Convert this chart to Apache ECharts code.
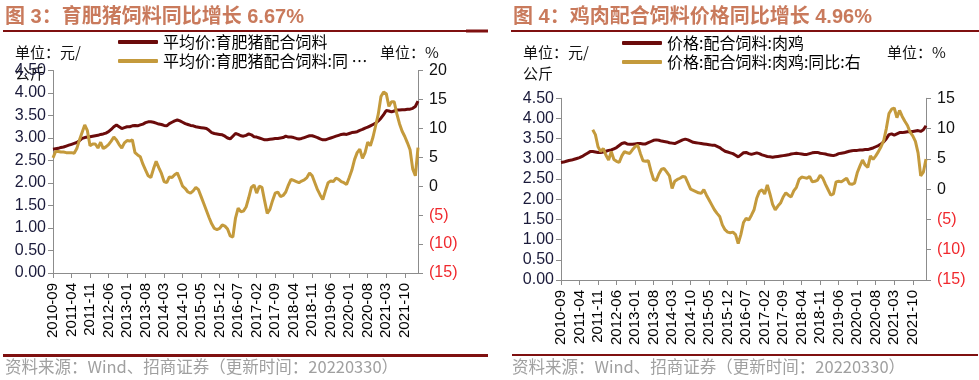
<!DOCTYPE html>
<html><head><meta charset="utf-8">
<script src="https://cdn.jsdelivr.net/npm/echarts@6/dist/echarts.min.js"></script>
<style>html,body{margin:0;padding:0;background:#fff}#c{width:979px;height:380px}</style>
</head><body><div id="c"></div>
<script>
// month categories 2010-09 .. 2022-03
const months = [];
for (let y = 2010, m = 9; y < 2022 || (y === 2022 && m <= 3); ) {
  months.push(y + '-' + (m < 10 ? '0' + m : m));
  m++; if (m > 12) { m = 1; y++; }
}
const pigName = '平均价:育肥猪配合饲料';
const pigYoyName = '平均价:育肥猪配合饲料:同 …';
const chkName = '价格:配合饲料:肉鸡';
const chkYoyName = '价格:配合饲料:肉鸡:同比:右';

const pigPrice = [2.75,2.76,2.77,2.79,2.80,2.82,2.84,2.86,2.88,2.90,
2.94,2.99,3.01,3.02,3.03,3.04,3.05,3.06,3.08,3.09,
3.11,3.14,3.19,3.25,3.29,3.25,3.21,3.23,3.25,3.25,
3.27,3.28,3.27,3.29,3.31,3.34,3.36,3.36,3.35,3.33,
3.31,3.30,3.28,3.27,3.32,3.35,3.38,3.40,3.38,3.35,
3.32,3.30,3.28,3.27,3.25,3.24,3.23,3.22,3.21,3.17,
3.12,3.10,3.09,3.08,3.07,3.04,3.00,2.98,3.04,3.10,
3.08,3.05,3.04,3.06,3.09,3.07,3.03,3.02,3.00,2.98,
2.96,2.96,2.97,2.98,2.99,2.99,3.00,3.01,3.04,3.02,
3.02,3.01,2.99,2.98,2.99,3.01,3.03,3.05,3.05,3.03,
3.01,2.98,2.96,2.96,2.98,3.00,3.02,3.04,3.06,3.08,
3.09,3.08,3.10,3.12,3.13,3.14,3.17,3.19,3.22,3.24,
3.27,3.30,3.33,3.38,3.44,3.52,3.61,3.60,3.58,3.60,
3.62,3.62,3.63,3.63,3.64,3.64,3.66,3.70,3.82];

const pigYoy = [4.9,6.0,6.0,5.9,5.9,5.8,5.8,5.8,5.7,6.5,
8.0,9.3,10.6,9.6,7.0,7.3,7.3,6.6,7.6,6.5,
6.8,7.2,7.8,8.5,8.0,7.2,6.6,7.5,7.9,7.8,
8.0,5.8,5.4,5.1,3.8,2.8,1.8,1.5,3.0,4.3,
3.2,2.2,0.8,0.6,1.6,1.5,2.0,2.3,1.2,0.0,
-0.4,-1.0,-1.2,-0.8,-0.2,-0.6,-1.8,-3.0,-4.2,-5.4,
-6.5,-7.3,-7.5,-7.3,-6.7,-6.9,-7.4,-8.6,-8.8,-5.5,
-3.8,-4.4,-4.3,-3.6,-2.0,-0.2,0.2,-1.2,0.0,-0.2,
-2.5,-4.7,-4.0,-2.5,-1.2,-1.0,-1.8,-1.6,-1.0,0.2,
1.2,1.0,0.8,0.6,0.9,1.1,1.5,2.3,1.8,0.6,
-0.6,-1.5,-2.3,-0.8,0.6,0.9,0.8,1.4,1.2,0.8,
0.6,0.3,1.5,2.8,4.6,5.8,6.4,4.8,5.8,7.6,
7.0,8.5,10.5,12.5,15.5,16.3,16.0,13.8,14.6,14.6,
12.5,10.8,9.5,8.6,7.5,6.3,3.0,1.8,6.67];

const chkPrice = [2.91,2.92,2.94,2.96,2.97,2.99,3.01,3.03,3.06,3.10,
3.14,3.18,3.18,3.17,3.16,3.16,3.17,3.19,3.21,3.22,
3.25,3.28,3.33,3.38,3.40,3.37,3.36,3.36,3.37,3.38,
3.38,3.37,3.37,3.40,3.43,3.46,3.47,3.46,3.44,3.43,
3.42,3.40,3.39,3.38,3.41,3.44,3.47,3.49,3.47,3.44,
3.41,3.40,3.39,3.38,3.37,3.36,3.35,3.34,3.34,3.31,
3.28,3.23,3.19,3.17,3.15,3.13,3.09,3.05,3.10,3.15,
3.16,3.13,3.11,3.13,3.15,3.13,3.10,3.08,3.06,3.05,
3.04,3.05,3.06,3.07,3.08,3.09,3.10,3.12,3.13,3.14,
3.13,3.12,3.11,3.11,3.13,3.15,3.16,3.16,3.14,3.13,
3.12,3.10,3.09,3.08,3.10,3.13,3.14,3.15,3.17,3.19,
3.20,3.21,3.21,3.22,3.22,3.23,3.23,3.25,3.27,3.30,
3.33,3.37,3.42,3.50,3.60,3.62,3.59,3.62,3.65,3.65,
3.66,3.67,3.67,3.68,3.69,3.70,3.68,3.72,3.82];

const chkYoy = [null,null,null,null,null,null,null,null,null,null,
null,null,9.8,9.0,7.0,6.2,6.7,5.6,4.8,6.2,
4.9,4.6,4.4,5.5,6.2,6.0,5.9,6.5,7.0,7.3,
5.9,4.7,4.6,4.7,3.0,1.6,1.4,2.5,3.3,3.4,
2.8,2.2,0.1,1.3,1.6,1.8,2.1,2.0,1.0,0.0,
-0.2,-0.4,-0.6,-0.7,-0.1,-1.0,-1.8,-2.6,-3.4,-4.0,
-4.5,-5.9,-6.7,-7.1,-7.2,-7.1,-7.5,-9.0,-7.5,-5.5,
-4.8,-5.1,-4.3,-3.4,-1.5,-0.4,-0.1,-0.8,0.7,-0.8,
-2.5,-3.4,-2.8,-2.3,-1.3,-0.6,-1.0,-1.3,-0.3,0.3,
1.6,2.0,1.9,1.8,2.1,1.2,1.3,1.5,2.3,1.8,
0.8,-0.1,-1.0,-0.8,1.2,1.3,1.2,1.5,1.8,0.9,
0.8,1.0,2.7,3.8,4.8,4.0,3.6,5.5,4.9,5.5,
6.2,7.0,8.0,10.0,12.5,13.2,13.4,11.8,13.0,12.0,
11.2,10.5,9.4,8.8,7.9,6.0,2.2,2.8,4.96];

const maroon = '#6b0b0b', gold = '#c49a3c';
const FONT = "'Liberation Sans', 'Noto Sans CJK SC', sans-serif";
const CJK = "'Noto Sans CJK SC', sans-serif";
const axisGray = '#8c8c8c';

function xAxis(gi) {
  return {
    type: 'category', gridIndex: gi, data: months, boundaryGap: false,
    axisLine: { lineStyle: { color: axisGray } },
    axisTick: { interval: 6, length: 5, lineStyle: { color: axisGray } },
    axisLabel: { interval: 6, rotate: 90, fontSize: 15, color: '#000', fontFamily: FONT, margin: 10 },
    splitLine: { show: false }
  };
}
function leftY(gi) {
  return {
    type: 'value', gridIndex: gi, min: 0, max: 4.5, interval: 0.5,
    axisLine: { show: true, lineStyle: { color: axisGray } },
    axisTick: { show: true, length: 5, lineStyle: { color: axisGray } },
    axisLabel: { fontSize: 16, color: '#1a1a3a', fontFamily: FONT, margin: 7, formatter: v => v.toFixed(2) },
    splitLine: { show: false }
  };
}
function rightY(gi, min, max) {
  return {
    type: 'value', gridIndex: gi, position: 'right', min: min, max: max, interval: 5,
    axisLine: { show: true, lineStyle: { color: axisGray } },
    axisTick: { show: true, length: 5, lineStyle: { color: axisGray } },
    axisLabel: {
      fontSize: 16, fontFamily: FONT, margin: 11,
      formatter: v => v < 0 ? '{n|(' + (-v) + ')}' : '{p|' + v + '}',
      rich: { n: { color: '#f0282d', fontSize: 16, fontFamily: FONT }, p: { color: '#111', fontSize: 16, fontFamily: FONT } }
    },
    splitLine: { show: false }
  };
}
function line(name, xi, yi, data, color) {
  return { name: name, type: 'line', xAxisIndex: xi, yAxisIndex: yi, data: data, symbol: 'none',
    color: color, lineStyle: { width: 3, color: color }, connectNulls: false, animation: false };
}
function txt(x, y, text, font, fill) {
  return { type: 'text', x: x, y: y, style: { text: text, font: font, fill: fill, verticalAlign: 'middle' } };
}
function bar(x, y, w, h, c) {
  return { type: 'rect', shape: { x: x, y: y, width: w, height: h }, style: { fill: c } };
}
const titleColor = '#c97a5c', rule = '#7f1010';
const legendBase = { orient: 'vertical', itemWidth: 40, itemHeight: 4, icon: 'roundRect', itemGap: 3, padding: 0,
  textStyle: { fontSize: 16, fontFamily: CJK, color: '#000', lineHeight: 16 } };

const chart = echarts.init(document.getElementById('c'), null, { renderer: 'canvas' });
chart.setOption({
  animation: false,
  grid: [
    { left: 53, top: 70.5, width: 365, height: 202.5 },
    { left: 561, top: 98.3, width: 365, height: 181.7 }
  ],
  xAxis: [xAxis(0), xAxis(1)],
  yAxis: [leftY(0), rightY(0, -15, 20), leftY(1), rightY(1, -15, 15)],
  legend: [
    Object.assign({}, legendBase, { left: 118, top: 34, data: [pigName, pigYoyName] }),
    Object.assign({}, legendBase, { left: 622, top: 35, data: [chkName, chkYoyName] })
  ],
  series: [
    line(pigName, 0, 0, pigPrice, maroon),
    line(pigYoyName, 0, 1, pigYoy, gold),
    line(chkName, 1, 2, chkPrice, maroon),
    line(chkYoyName, 1, 3, chkYoy, gold)
  ],
  graphic: [
    txt(5, 17, '图 3：育肥猪饲料同比增长 6.67%', 'bold 20px ' + FONT, titleColor),
    txt(513, 17, '图 4：鸡肉配合饲料价格同比增长 4.96%', 'bold 20px ' + FONT, titleColor),
    bar(3, 30, 485, 2, rule), bar(466, 29.5, 22, 3, rule),
    bar(511, 30, 468, 2, rule),
    bar(3, 354, 485, 3, rule),
    bar(512, 354, 466, 2, rule),
    txt(15, 52, '单位：元/', '15px ' + CJK, '#111'),
    txt(15, 73, '公斤', '15px ' + CJK, '#111'),
    txt(380, 52, '单位：%', '15px ' + CJK, '#111'),
    txt(523, 52, '单位：元/', '15px ' + CJK, '#111'),
    txt(523, 73, '公斤', '15px ' + CJK, '#111'),
    txt(887, 52, '单位：%', '15px ' + CJK, '#111'),
    txt(5, 367, '资料来源：Wind、招商证券（更新时间：20220330）', '16.5px ' + CJK, '#a0a0a0'),
    txt(512, 367, '资料来源：Wind、招商证券（更新时间：20220330）', '16.5px ' + CJK, '#a0a0a0')
  ]
});
</script></body></html>
